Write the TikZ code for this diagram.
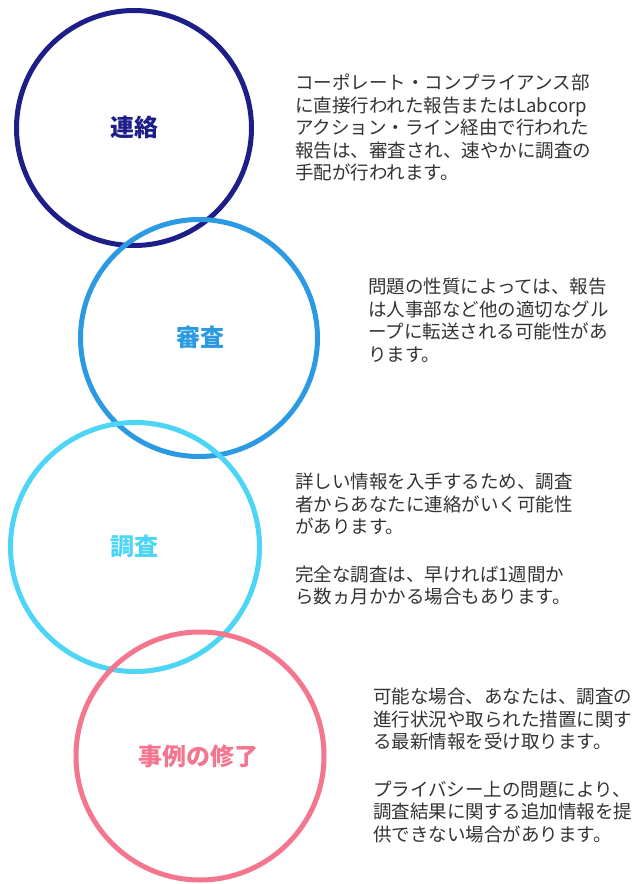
\documentclass[tikz,border=0pt]{standalone}
\usepackage{fontspec}
\setmainfont{Noto Sans CJK JP}
\definecolor{cnavy}{HTML}{1E1E88}
\definecolor{cblue}{HTML}{2B9AE2}
\definecolor{ccyan}{HTML}{4CD5F5}
\definecolor{cpink}{HTML}{F4768E}
\definecolor{ctext}{HTML}{333333}
\tikzset{
  ring/.style={line width=5pt},
  ringlabel/.style={font=\fontsize{24}{28}\selectfont\bfseries, inner sep=0pt},
  desc/.style={anchor=north west, align=left, inner sep=0pt, text=ctext,
    font=\fontsize{18.5}{22.5}\selectfont},
}
\begin{document}
\begin{tikzpicture}[x=1pt,y=-1pt]
\useasboundingbox (0,0) rectangle (637,884);
% circles
\coordinate (c1) at (134,128);
\coordinate (c2) at (199,338);
\coordinate (c3) at (135,547);
\coordinate (c4) at (200,756);
\draw[ring, cnavy] (c1) circle[radius=117.5];
\draw[ring, cblue] (c2) circle[radius=118.5];
\draw[ring, ccyan] (c3) circle[radius=124.5];
\draw[ring, cpink] (c4) circle[radius=124];
% labels
\node[ringlabel, text=cnavy] (l1) at (134,127) {連絡};
\node[ringlabel, text=cblue] (l2) at (200,337) {審査};
\node[ringlabel, text=ccyan] (l3) at (134.5,546) {調査};
\node[ringlabel, text=cpink] (l4) at (198,756) {事例の修了};
% descriptions
\node[desc] (d1) at (295,74) {コーポレート・コンプライアンス部\\に直接行われた報告またはLabcorp\\アクション・ライン経由で行われた\\報告は、審査され、速やかに調査の\\手配が行われます。};
\node[desc] (d2) at (368,278) {問題の性質によっては、報告\\は人事部など他の適切なグル\\ープに転送される可能性があ\\ります。};
\node[desc] (d3) at (295,473) {詳しい情報を入手するため、調査\\者からあなたに連絡がいく可能性\\があります。\\[25pt]完全な調査は、早ければ1週間か\\ら数ヵ月かかる場合もあります。};
\node[desc] (d4) at (373,688) {可能な場合、あなたは、調査の\\進行状況や取られた措置に関す\\る最新情報を受け取ります。\\[25pt]プライバシー上の問題により、\\調査結果に関する追加情報を提\\供できない場合があります。};
\end{tikzpicture}
\end{document}
